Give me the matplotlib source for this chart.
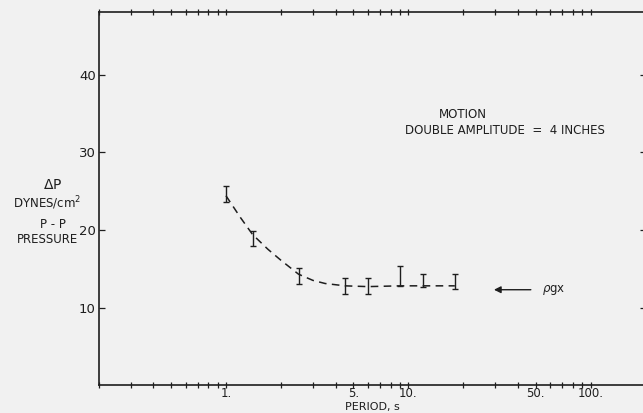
import matplotlib

matplotlib.use("Agg")
import matplotlib.pyplot as plt
import numpy as np

period = [1.0, 1.4, 2.5, 4.5, 6.0, 9.0, 12.0, 18.0]
p_low = [23.6, 17.9, 13.0, 11.8, 11.8, 12.8, 12.6, 12.4]
p_high = [25.7, 19.8, 15.1, 13.8, 13.8, 15.4, 14.3, 14.3]

# hand-drawn dashed trend curve
curve_x = [1.0, 1.2, 1.4, 1.7, 2.0, 2.5, 3.0, 3.5, 4.5, 6.0, 9.0, 12.0, 18.0]
curve_y = [24.4, 21.6, 19.4, 17.5, 16.1, 14.3, 13.5, 13.1, 12.8, 12.7, 12.8, 12.8, 12.8]

xticks = [1, 5, 10, 50, 100]
xtick_labels = ["1.", "5.", "10.", "50.", "100."]
yticks = [10, 20, 30, 40]

rho_gx = 12.3

BG = "#f1f1f1"
INK = "#1e1e1e"
W, H = 643, 413

fig = plt.figure(figsize=(6.43, 4.13), dpi=100, facecolor=BG)
ax = fig.add_axes([0.1532, 0.0671, 0.8507, 0.9030], facecolor=BG)

ax.set_xscale("log")
ax.set_xlim(0.2, 200)
ax.set_ylim(0, 48)

lo = np.array(p_low)
hi = np.array(p_high)
mid = (lo + hi) / 2
half = (hi - lo) / 2
ax.errorbar(period, mid, yerr=half, fmt="none", ecolor=INK, elinewidth=1.0,
            capsize=2.2, capthick=1.0)

ax.plot(curve_x, curve_y, color=INK, lw=1.1, dashes=(5, 3.5))

# rho g x reference arrow
ax.annotate("", xy=(29.5, rho_gx), xytext=(47, rho_gx),
            arrowprops=dict(arrowstyle="-|>", color=INK, lw=1.0,
                            mutation_scale=10, shrinkA=0, shrinkB=0))
ax.text(54, rho_gx, r"$\rho$gx", fontsize=8.5, color=INK, va="center", ha="left")

fig.text(463 / W, 1 - 114 / H, "MOTION", fontsize=8.5, color=INK,
         ha="center", va="center")
fig.text(505 / W, 1 - 130 / H, "DOUBLE AMPLITUDE  =  4 INCHES", fontsize=8.5,
         color=INK, ha="center", va="center")

# stacked y-axis label
fig.text(53 / W, 1 - 185 / H, r"$\Delta$P", fontsize=10, color=INK,
         ha="center", va="center")
fig.text(47 / W, 1 - 203 / H, "DYNES/cm$^2$", fontsize=8.5, color=INK,
         ha="center", va="center")
fig.text(53 / W, 1 - 225 / H, "P - P", fontsize=8.5, color=INK,
         ha="center", va="center")
fig.text(47 / W, 1 - 239 / H, "PRESSURE", fontsize=8.5, color=INK,
         ha="center", va="center")

ax.set_xticks(xticks)
ax.set_xticklabels(xtick_labels)
ax.set_yticks(yticks)
ax.tick_params(axis="x", which="both", direction="inout", top=True, length=5,
               width=0.9, labelsize=8.5, colors=INK, pad=-1)
ax.tick_params(axis="x", which="minor", length=4)
ax.tick_params(axis="y", direction="in", right=True, length=4, width=0.9,
               labelsize=9.5, colors=INK, pad=2)
ax.xaxis.set_minor_formatter(matplotlib.ticker.NullFormatter())

fig.text(372 / W, 1 - 407 / H, "PERIOD, s", fontsize=8, color=INK,
         ha="center", va="center")

for s in ax.spines.values():
    s.set_color(INK)
    s.set_linewidth(1.2)

fig.savefig("out.png", dpi=100, facecolor=BG)
